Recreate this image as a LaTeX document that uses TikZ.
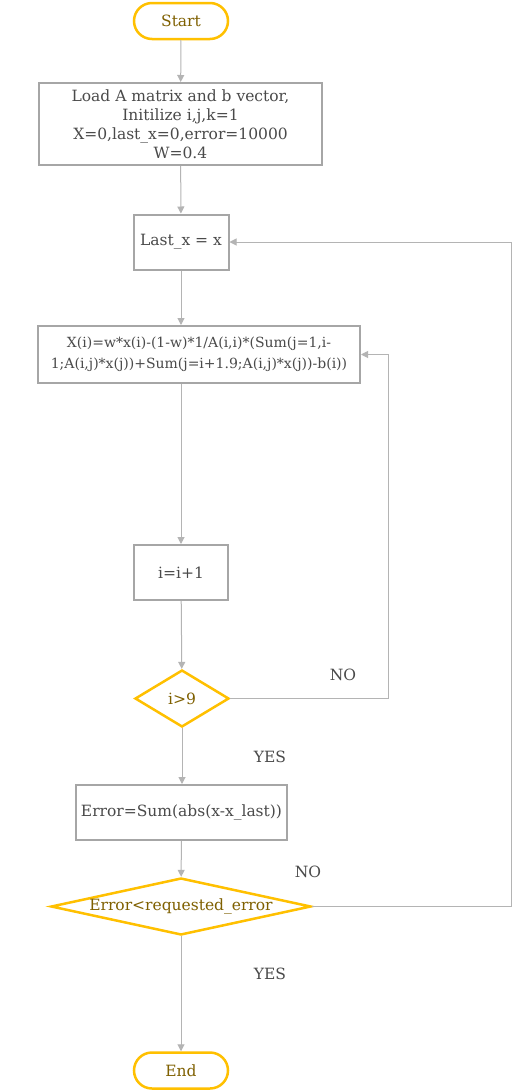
\documentclass[tikz,border=0pt]{standalone}
\usepackage{fontspec}
\setmainfont{DejaVu Serif}
\usetikzlibrary{shapes.geometric,arrows.meta}
\definecolor{gold}{HTML}{FFC000}
\definecolor{goldtext}{HTML}{7F6000}
\definecolor{boxline}{HTML}{A6A6A6}
\definecolor{flowline}{HTML}{B4B4B4}
\definecolor{boxtext}{HTML}{4A4A4A}
\tikzset{
  terminal/.style={draw=gold, line width=2.5pt, rounded corners=18pt,
    minimum width=94pt, minimum height=36pt, text=goldtext},
  process/.style={draw=boxline, line width=2pt, text=boxtext, align=center,
    inner sep=0pt},
  decision/.style={draw=gold, line width=2.5pt, diamond,
    inner sep=0pt, text=goldtext},
  answer/.style={text=boxtext},
  flow/.style={draw=flowline, line width=1pt,
    -{Triangle[length=7pt,width=7pt]}}
}
\begin{document}
\begin{tikzpicture}[x=1pt,y=-1pt,font=\fontsize{15.5}{19}\selectfont]
  \useasboundingbox[fill=white] (0,0) rectangle (512,1092);
  \node[terminal] (start) at (181,21) {Start};
  \node[process, minimum width=283pt, minimum height=82pt] (init) at (180.5,124)
    {Load A matrix and b vector,\\Initilize i,j,k=1\\X=0,last\_x=0,error=10000\\W=0.4};
  \node[process, minimum width=95pt, minimum height=55pt] (last) at (181,242)
    {Last\_x = x};
  \node[process, minimum width=322pt, minimum height=57pt,
    font=\fontsize{14}{21}\selectfont] (update) at (199,354.5)
    {X(i)=w*x(i)-(1-w)*1/A(i,i)*(Sum(j=1,i-\\1;A(i,j)*x(j))+Sum(j=i+1.9;A(i,j)*x(j))-b(i))};
  \node[process, minimum width=94pt, minimum height=55pt] (incr) at (181,572.5)
    {i=i+1};
  \node[decision, aspect=1.65, minimum width=94pt, minimum height=57pt] (test)
    at (182,698.5) {i>9};
  \node[process, minimum width=211pt, minimum height=55pt] (err) at (181.5,812.5)
    {Error=Sum(abs(x-x\_last))};
  \node[decision, aspect=4.56, minimum width=260pt, minimum height=57pt] (conv)
    at (181,906.5) {Error<requested\_error};
  \node[terminal] (stop) at (181,1070.5) {End};
  % branch labels
  \node[answer] (no1) at (343,675) {NO};
  \node[answer] (yes1) at (270,757) {YES};
  \node[answer] (no2) at (308,872) {NO};
  \node[answer] (yes2) at (270,974) {YES};
  % loop corners
  \coordinate (inner) at (388,354.5);
  \coordinate (outer) at (511,242);
  \begin{scope}
    \draw[flow] (start) -- (init);
    \draw[flow] (init) -- (last);
    \draw[flow] (last) -- (last |- update.north);
    \draw[flow] (last |- update.south) -- (incr);
    \draw[flow] (incr) -- (test);
    \draw[flow] (test) -- (test |- err.north);
    \draw[flow] (err) -- (conv);
    \draw[flow] (conv) -- (stop);
    \draw[flow] (test.east) -| (inner) -- (update.east);
    \draw[flow] (conv.east) -| (outer) -- (last.east);
  \end{scope}
\end{tikzpicture}
\end{document}
